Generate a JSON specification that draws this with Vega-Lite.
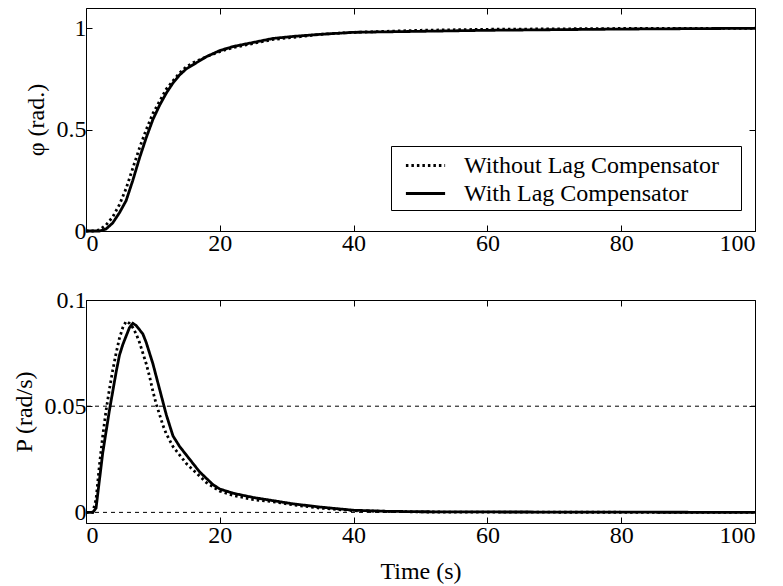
{
  "$schema": "https://vega.github.io/schema/vega-lite/v6.json",
  "padding": {"left": 11, "top": 7, "right": 10, "bottom": 0},
  "background": "white",
  "spacing": 31,
  "config": {
    "font": "Liberation Serif",
    "view": {"stroke": "black", "strokeWidth": 1},
    "axis": {
      "grid": false,
      "domain": false,
      "tickColor": "black",
      "tickSize": -6,
      "labelFont": "Liberation Serif",
      "labelFontSize": 24,
      "labelColor": "black",
      "labelPadding": 6,
      "titleFont": "Liberation Serif",
      "titleFontSize": 24,
      "titleFontWeight": "normal",
      "titleColor": "black"
    },
    "legend": {
      "labelFont": "Liberation Serif",
      "labelFontSize": 24,
      "labelColor": "black"
    }
  },
  "datasets": {
    "phi": [
      {"t": 0, "v": 0, "s": "With Lag Compensator"},
      {"t": 1, "v": 0, "s": "With Lag Compensator"},
      {"t": 2, "v": 0, "s": "With Lag Compensator"},
      {"t": 3, "v": 0.01, "s": "With Lag Compensator"},
      {"t": 4, "v": 0.04, "s": "With Lag Compensator"},
      {"t": 5, "v": 0.09, "s": "With Lag Compensator"},
      {"t": 6, "v": 0.15, "s": "With Lag Compensator"},
      {"t": 7, "v": 0.25, "s": "With Lag Compensator"},
      {"t": 8, "v": 0.36, "s": "With Lag Compensator"},
      {"t": 9, "v": 0.46, "s": "With Lag Compensator"},
      {"t": 10, "v": 0.55, "s": "With Lag Compensator"},
      {"t": 11, "v": 0.62, "s": "With Lag Compensator"},
      {"t": 12, "v": 0.68, "s": "With Lag Compensator"},
      {"t": 13, "v": 0.73, "s": "With Lag Compensator"},
      {"t": 14, "v": 0.77, "s": "With Lag Compensator"},
      {"t": 15, "v": 0.8, "s": "With Lag Compensator"},
      {"t": 16, "v": 0.82, "s": "With Lag Compensator"},
      {"t": 18, "v": 0.86, "s": "With Lag Compensator"},
      {"t": 20, "v": 0.89, "s": "With Lag Compensator"},
      {"t": 22, "v": 0.91, "s": "With Lag Compensator"},
      {"t": 25, "v": 0.93, "s": "With Lag Compensator"},
      {"t": 28, "v": 0.95, "s": "With Lag Compensator"},
      {"t": 31, "v": 0.96, "s": "With Lag Compensator"},
      {"t": 35, "v": 0.97, "s": "With Lag Compensator"},
      {"t": 40, "v": 0.98, "s": "With Lag Compensator"},
      {"t": 50, "v": 0.985, "s": "With Lag Compensator"},
      {"t": 60, "v": 0.99, "s": "With Lag Compensator"},
      {"t": 70, "v": 0.993, "s": "With Lag Compensator"},
      {"t": 80, "v": 0.996, "s": "With Lag Compensator"},
      {"t": 90, "v": 0.998, "s": "With Lag Compensator"},
      {"t": 100, "v": 1.0, "s": "With Lag Compensator"},
      {"t": 0, "v": 0, "s": "Without Lag Compensator"},
      {"t": 1, "v": 0, "s": "Without Lag Compensator"},
      {"t": 2, "v": 0.005, "s": "Without Lag Compensator"},
      {"t": 3, "v": 0.03, "s": "Without Lag Compensator"},
      {"t": 4, "v": 0.07, "s": "Without Lag Compensator"},
      {"t": 5, "v": 0.13, "s": "Without Lag Compensator"},
      {"t": 6, "v": 0.21, "s": "Without Lag Compensator"},
      {"t": 7, "v": 0.31, "s": "Without Lag Compensator"},
      {"t": 8, "v": 0.41, "s": "Without Lag Compensator"},
      {"t": 9, "v": 0.5, "s": "Without Lag Compensator"},
      {"t": 10, "v": 0.58, "s": "Without Lag Compensator"},
      {"t": 11, "v": 0.64, "s": "Without Lag Compensator"},
      {"t": 12, "v": 0.7, "s": "Without Lag Compensator"},
      {"t": 13, "v": 0.74, "s": "Without Lag Compensator"},
      {"t": 14, "v": 0.78, "s": "Without Lag Compensator"},
      {"t": 15, "v": 0.81, "s": "Without Lag Compensator"},
      {"t": 16, "v": 0.83, "s": "Without Lag Compensator"},
      {"t": 18, "v": 0.86, "s": "Without Lag Compensator"},
      {"t": 20, "v": 0.885, "s": "Without Lag Compensator"},
      {"t": 22, "v": 0.905, "s": "Without Lag Compensator"},
      {"t": 25, "v": 0.925, "s": "Without Lag Compensator"},
      {"t": 28, "v": 0.945, "s": "Without Lag Compensator"},
      {"t": 31, "v": 0.955, "s": "Without Lag Compensator"},
      {"t": 35, "v": 0.97, "s": "Without Lag Compensator"},
      {"t": 40, "v": 0.98, "s": "Without Lag Compensator"},
      {"t": 50, "v": 0.99, "s": "Without Lag Compensator"},
      {"t": 60, "v": 0.995, "s": "Without Lag Compensator"},
      {"t": 70, "v": 0.997, "s": "Without Lag Compensator"},
      {"t": 80, "v": 0.999, "s": "Without Lag Compensator"},
      {"t": 100, "v": 1.0, "s": "Without Lag Compensator"}
    ],
    "p": [
      {"t": 0, "v": 0, "s": "With Lag Compensator"},
      {"t": 1, "v": 0, "s": "With Lag Compensator"},
      {"t": 1.5, "v": 0.002, "s": "With Lag Compensator"},
      {"t": 2, "v": 0.015, "s": "With Lag Compensator"},
      {"t": 2.5, "v": 0.028, "s": "With Lag Compensator"},
      {"t": 3, "v": 0.038, "s": "With Lag Compensator"},
      {"t": 3.5, "v": 0.048, "s": "With Lag Compensator"},
      {"t": 4, "v": 0.057, "s": "With Lag Compensator"},
      {"t": 4.5, "v": 0.066, "s": "With Lag Compensator"},
      {"t": 5, "v": 0.074, "s": "With Lag Compensator"},
      {"t": 5.5, "v": 0.079, "s": "With Lag Compensator"},
      {"t": 6, "v": 0.083, "s": "With Lag Compensator"},
      {"t": 6.5, "v": 0.087, "s": "With Lag Compensator"},
      {"t": 7, "v": 0.089, "s": "With Lag Compensator"},
      {"t": 7.5, "v": 0.088, "s": "With Lag Compensator"},
      {"t": 8, "v": 0.086, "s": "With Lag Compensator"},
      {"t": 8.5, "v": 0.084, "s": "With Lag Compensator"},
      {"t": 9, "v": 0.08, "s": "With Lag Compensator"},
      {"t": 9.5, "v": 0.075, "s": "With Lag Compensator"},
      {"t": 10, "v": 0.07, "s": "With Lag Compensator"},
      {"t": 10.5, "v": 0.064, "s": "With Lag Compensator"},
      {"t": 11, "v": 0.058, "s": "With Lag Compensator"},
      {"t": 11.5, "v": 0.052, "s": "With Lag Compensator"},
      {"t": 12, "v": 0.046, "s": "With Lag Compensator"},
      {"t": 12.5, "v": 0.041, "s": "With Lag Compensator"},
      {"t": 13, "v": 0.036, "s": "With Lag Compensator"},
      {"t": 14, "v": 0.031, "s": "With Lag Compensator"},
      {"t": 15, "v": 0.027, "s": "With Lag Compensator"},
      {"t": 16, "v": 0.023, "s": "With Lag Compensator"},
      {"t": 17, "v": 0.019, "s": "With Lag Compensator"},
      {"t": 18, "v": 0.016, "s": "With Lag Compensator"},
      {"t": 19, "v": 0.013, "s": "With Lag Compensator"},
      {"t": 20, "v": 0.011, "s": "With Lag Compensator"},
      {"t": 22, "v": 0.009, "s": "With Lag Compensator"},
      {"t": 25, "v": 0.007, "s": "With Lag Compensator"},
      {"t": 28, "v": 0.0055, "s": "With Lag Compensator"},
      {"t": 31, "v": 0.004, "s": "With Lag Compensator"},
      {"t": 35, "v": 0.0025, "s": "With Lag Compensator"},
      {"t": 40, "v": 0.001, "s": "With Lag Compensator"},
      {"t": 45, "v": 0.0005, "s": "With Lag Compensator"},
      {"t": 50, "v": 0.0003, "s": "With Lag Compensator"},
      {"t": 60, "v": 0.0002, "s": "With Lag Compensator"},
      {"t": 80, "v": 0.0001, "s": "With Lag Compensator"},
      {"t": 100, "v": 0, "s": "With Lag Compensator"},
      {"t": 0, "v": 0, "s": "Without Lag Compensator"},
      {"t": 1, "v": 0, "s": "Without Lag Compensator"},
      {"t": 1.5, "v": 0.006, "s": "Without Lag Compensator"},
      {"t": 2, "v": 0.022, "s": "Without Lag Compensator"},
      {"t": 2.5, "v": 0.036, "s": "Without Lag Compensator"},
      {"t": 3, "v": 0.048, "s": "Without Lag Compensator"},
      {"t": 3.5, "v": 0.058, "s": "Without Lag Compensator"},
      {"t": 4, "v": 0.067, "s": "Without Lag Compensator"},
      {"t": 4.5, "v": 0.075, "s": "Without Lag Compensator"},
      {"t": 5, "v": 0.082, "s": "Without Lag Compensator"},
      {"t": 5.5, "v": 0.087, "s": "Without Lag Compensator"},
      {"t": 6, "v": 0.09, "s": "Without Lag Compensator"},
      {"t": 6.5, "v": 0.089, "s": "Without Lag Compensator"},
      {"t": 7, "v": 0.087, "s": "Without Lag Compensator"},
      {"t": 7.5, "v": 0.084, "s": "Without Lag Compensator"},
      {"t": 8, "v": 0.08, "s": "Without Lag Compensator"},
      {"t": 8.5, "v": 0.075, "s": "Without Lag Compensator"},
      {"t": 9, "v": 0.07, "s": "Without Lag Compensator"},
      {"t": 9.5, "v": 0.064, "s": "Without Lag Compensator"},
      {"t": 10, "v": 0.057, "s": "Without Lag Compensator"},
      {"t": 10.5, "v": 0.051, "s": "Without Lag Compensator"},
      {"t": 11, "v": 0.046, "s": "Without Lag Compensator"},
      {"t": 11.5, "v": 0.041, "s": "Without Lag Compensator"},
      {"t": 12, "v": 0.037, "s": "Without Lag Compensator"},
      {"t": 13, "v": 0.031, "s": "Without Lag Compensator"},
      {"t": 14, "v": 0.027, "s": "Without Lag Compensator"},
      {"t": 15, "v": 0.023, "s": "Without Lag Compensator"},
      {"t": 16, "v": 0.02, "s": "Without Lag Compensator"},
      {"t": 17, "v": 0.017, "s": "Without Lag Compensator"},
      {"t": 18, "v": 0.014, "s": "Without Lag Compensator"},
      {"t": 19, "v": 0.012, "s": "Without Lag Compensator"},
      {"t": 20, "v": 0.01, "s": "Without Lag Compensator"},
      {"t": 22, "v": 0.008, "s": "Without Lag Compensator"},
      {"t": 25, "v": 0.006, "s": "Without Lag Compensator"},
      {"t": 28, "v": 0.005, "s": "Without Lag Compensator"},
      {"t": 31, "v": 0.0035, "s": "Without Lag Compensator"},
      {"t": 35, "v": 0.002, "s": "Without Lag Compensator"},
      {"t": 40, "v": 0.0008, "s": "Without Lag Compensator"},
      {"t": 50, "v": 0.0002, "s": "Without Lag Compensator"},
      {"t": 60, "v": 0.0001, "s": "Without Lag Compensator"},
      {"t": 100, "v": 0, "s": "Without Lag Compensator"}
    ],
    "refs": [{"v": 0}, {"v": 0.05}]
  },
  "vconcat": [
    {
      "width": 669,
      "height": 223,
      "layer": [
        {
          "data": {"name": "phi"},
          "mark": {"type": "line", "strokeWidth": 2.8, "color": "black"},
          "encoding": {
            "x": {"field": "t", "type": "quantitative", "scale": {"domain": [0, 100], "nice": false},
                  "axis": {"values": [0, 20, 40, 60, 80, 100], "title": null}},
            "y": {"field": "v", "type": "quantitative", "scale": {"domain": [0, 1.1], "nice": false},
                  "axis": {"values": [0, 0.5, 1], "format": "~g", "title": "φ (rad.)", "titlePadding": 8}},
            "strokeDash": {
              "field": "s", "type": "nominal",
              "scale": {"domain": ["Without Lag Compensator", "With Lag Compensator"], "range": [[2.5, 3], [1, 0]]},
              "legend": {
                "title": null, "orient": "none", "legendX": 305, "legendY": 138,
                "symbolType": "M-1.4,0H1.4", "symbolSize": 784, "symbolStrokeWidth": 3,
                "symbolStrokeColor": "black", "symbolFillColor": "transparent",
                "symbolOffset": 15,
                "strokeColor": "black", "fillColor": "white", "padding": 4,
                "rowPadding": 0, "labelOffset": 23, "labelLimit": 400,
                "labelExpr": "datum.label + '\u2800'"
              }
            }
          }
        },
        {
          "data": {"name": "phi"},
          "mark": {"type": "line", "strokeOpacity": 0},
          "encoding": {
            "x": {"field": "t", "type": "quantitative",
                  "axis": {"orient": "top", "values": [0, 20, 40, 60, 80, 100], "labels": false, "title": null}},
            "y": {"field": "v", "type": "quantitative",
                  "axis": {"orient": "right", "values": [0, 0.5, 1], "labels": false, "title": null}}
          }
        }
      ],
      "resolve": {"axis": {"x": "independent", "y": "independent"}}
    },
    {
      "width": 669,
      "height": 223,
      "layer": [
        {
          "data": {"name": "refs"},
          "mark": {"type": "rule", "color": "black", "strokeWidth": 1, "strokeDash": [4, 4]},
          "encoding": {
            "y": {"field": "v", "type": "quantitative",
                  "axis": {"orient": "right", "values": [0, 0.05, 0.1], "labels": false, "title": null}}
          }
        },
        {
          "data": {"name": "p"},
          "mark": {"type": "line", "strokeWidth": 2.8, "color": "black"},
          "encoding": {
            "x": {"field": "t", "type": "quantitative", "scale": {"domain": [0, 100], "nice": false},
                  "axis": {"values": [0, 20, 40, 60, 80, 100], "title": "Time (s)", "titlePadding": 12}},
            "y": {"field": "v", "type": "quantitative", "scale": {"domain": [-0.005, 0.1], "nice": false},
                  "axis": {"orient": "left", "values": [0, 0.05, 0.1], "format": "~g", "title": "P (rad/s)", "titlePadding": 8}},
            "strokeDash": {
              "field": "s", "type": "nominal",
              "scale": {"domain": ["Without Lag Compensator", "With Lag Compensator"], "range": [[2.5, 3], [1, 0]]},
              "legend": null
            }
          }
        },
        {
          "data": {"name": "p"},
          "mark": {"type": "line", "strokeOpacity": 0},
          "encoding": {
            "x": {"field": "t", "type": "quantitative",
                  "axis": {"orient": "top", "values": [0, 20, 40, 60, 80, 100], "labels": false, "title": null}},
            "y": {"field": "v", "type": "quantitative", "axis": null}
          }
        }
      ],
      "resolve": {"axis": {"x": "independent", "y": "independent"}}
    }
  ],
  "resolve": {"scale": {"strokeDash": "independent"}, "legend": {"strokeDash": "independent"}}
}
